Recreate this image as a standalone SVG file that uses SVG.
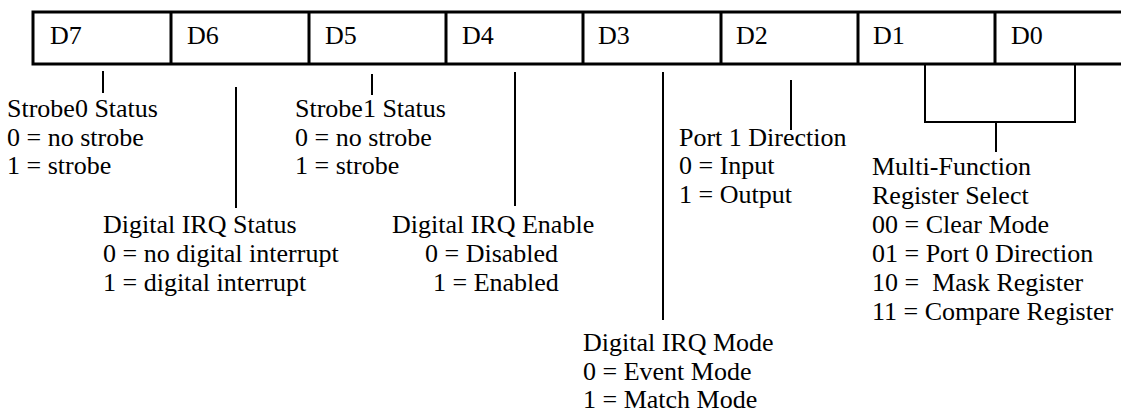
<svg xmlns="http://www.w3.org/2000/svg" width="1121" height="410" viewBox="0 0 1121 410">
<style>
text{font-family:"Liberation Serif","Times New Roman",serif;font-size:26px;fill:#000}
.box{fill:none;stroke:#000;stroke-width:3}
.ln{fill:none;stroke:#000;stroke-width:2}
</style>
<rect width="1121" height="410" fill="#fff"/>
<g id="register">
<rect class="box" x="33" y="12" width="1100" height="52"/>
<path class="box" d="M171 12V64M309 12V64M446 12V64M583 12V64M721 12V64M858 12V64M995 12V64"/>
<text x="50" y="44">D7</text>
<text x="187" y="44">D6</text>
<text x="325" y="44">D5</text>
<text x="462" y="44">D4</text>
<text x="598" y="44">D3</text>
<text x="736" y="44">D2</text>
<text x="873" y="44">D1</text>
<text x="1011" y="44">D0</text>
</g>
<g id="connectors">
<path class="ln" d="M103 71V93"/>
<path class="ln" d="M236 87V208"/>
<path class="ln" d="M372 74V95"/>
<path class="ln" d="M515 72V206"/>
<path class="ln" d="M663 72V320"/>
<path class="ln" d="M791 80V130"/>
<path class="ln" d="M925 65V122H1075V65M996 122V152"/>
</g>
<g id="d7">
<text x="7" y="117">Strobe0 Status</text>
<text x="7" y="146">0 = no strobe</text>
<text x="7" y="174">1 = strobe</text>
</g>
<g id="d6">
<text x="103" y="233">Digital IRQ Status</text>
<text x="103" y="262">0 = no digital interrupt</text>
<text x="103" y="291">1 = digital interrupt</text>
</g>
<g id="d5">
<text x="295" y="117">Strobe1 Status</text>
<text x="295" y="146">0 = no strobe</text>
<text x="295" y="174">1 = strobe</text>
</g>
<g id="d4">
<text x="392" y="233">Digital IRQ Enable</text>
<text x="425" y="262">0 = Disabled</text>
<text x="433" y="291">1 = Enabled</text>
</g>
<g id="d3">
<text x="583" y="351">Digital IRQ Mode</text>
<text x="583" y="380">0 = Event Mode</text>
<text x="583" y="408">1 = Match Mode</text>
</g>
<g id="d2">
<text x="679" y="146">Port 1 Direction</text>
<text x="679" y="174">0 = Input</text>
<text x="679" y="203">1 = Output</text>
</g>
<g id="d1d0">
<text x="872" y="175">Multi-Function</text>
<text x="872" y="204">Register Select</text>
<text x="872" y="233">00 = Clear Mode</text>
<text x="872" y="262">01 = Port 0 Direction</text>
<text x="872" y="291" xml:space="preserve">10 =  Mask Register</text>
<text x="872" y="320">11 = Compare Register</text>
</g>
</svg>
